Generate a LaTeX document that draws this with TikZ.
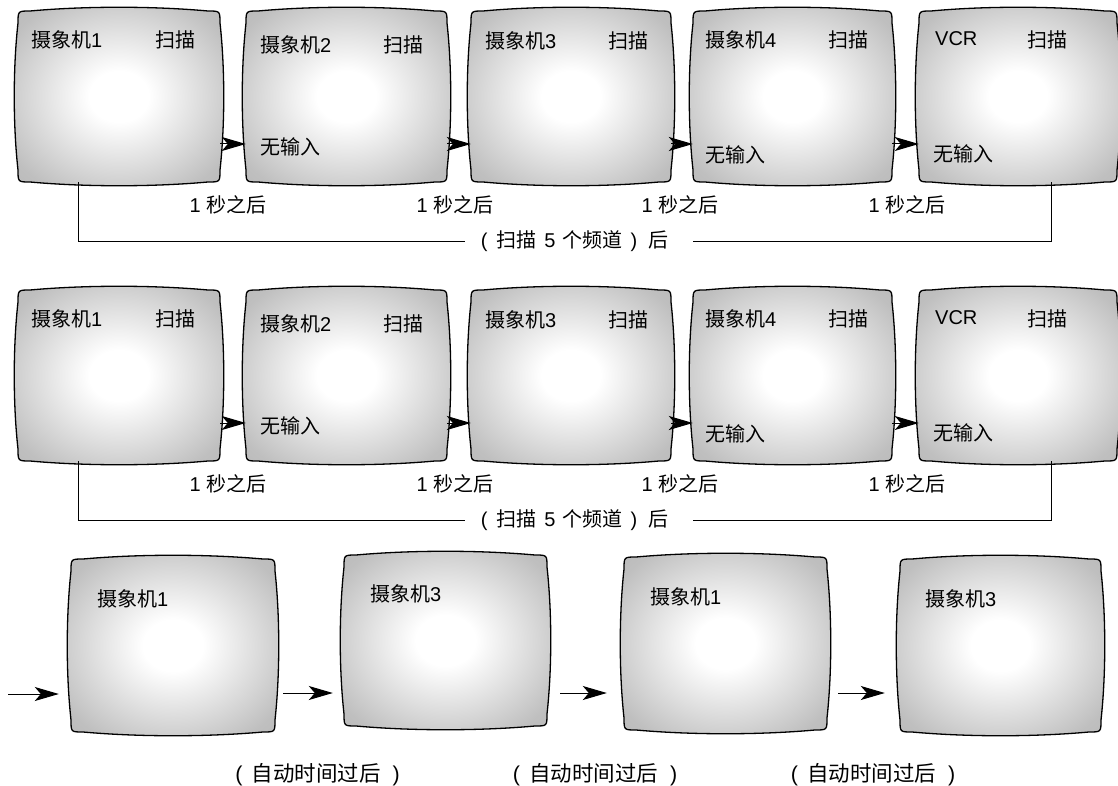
\documentclass[tikz,border=0pt]{standalone}
\usepackage{fontspec}
\setmainfont{Liberation Sans}
\newfontfamily\cjk{Noto Sans CJK SC}
\usepackage{tikz}
\usetikzlibrary{arrows.meta,calc}
\pgfdeclareradialshading{tvglow}{\pgfpoint{0bp}{0bp}}{color(0bp)=(white); color(7bp)=(white); color(30bp)=(gray!50); color(45bp)=(gray!62); color(60bp)=(gray!75)}
% name, centre, half width, half height
\newcommand{\tvscreen}[4]{%
  \begin{scope}[shift={(#2)}]
    \shade[tvface] (-#3,-#4+12) .. controls (-#3,-#4) .. (-#3+12,-#4)
      .. controls (-#3/3,-#4-5) and (#3/3,-#4-5) .. (#3-12,-#4)
      .. controls (#3,-#4) .. (#3,-#4+12)
      .. controls (#3+5,-#4/3) and (#3+5,#4/3) .. (#3,#4-12)
      .. controls (#3,#4) .. (#3-12,#4)
      .. controls (#3/3,#4+5) and (-#3/3,#4+5) .. (-#3+12,#4)
      .. controls (-#3,#4) .. (-#3,#4-12)
      .. controls (-#3-5,#4/3) and (-#3-5,-#4/3) .. cycle;
  \end{scope}
  \node[tvnode, minimum width=2*#3, minimum height=2*#4] (#1) at (#2) {};
}
\newcommand{\sweeptext}{(\hspace{9pt}{\cjk 扫描}\hspace{8pt}5\hspace{7pt}{\cjk 个频道}\hspace{8pt})\hspace{11pt}{\cjk 后}}
\newcommand{\autotext}{(\hspace{9pt}{\cjk 自动时间过后}\hspace{12pt})}

\begin{document}
\begin{tikzpicture}[x=1pt, y=-1pt]
        % Styles
        \tikzstyle{tvface} = [shading=tvglow, draw=black, line width=1.3pt]
        \tikzstyle{tvnode} = [rectangle, inner sep=0pt]
        \tikzstyle{lbl} = [font=\fontsize{20}{24}\selectfont, inner sep=0pt, anchor=west]
        \tikzstyle{note} = [font=\fontsize{20}{24}\selectfont, inner sep=0pt]
        \tikzstyle{line} = [draw, -{Stealth[length=24pt,width=14pt,inset=6pt]}, line width=1pt]
        \tikzstyle{bracket} = [draw, line width=0.8pt]

        \useasboundingbox (0,0) rectangle (1118,786);

        % Screens
        \tvscreen{s11}{119,96.5}{101}{85.5}
        \tvscreen{s12}{346.5,96.5}{100.5}{85.5}
        \tvscreen{s13}{571,96.5}{100}{85.5}
        \tvscreen{s14}{792.5,96.5}{99.5}{85.5}
        \tvscreen{s15}{1018,96.5}{99}{85.5}

        \tvscreen{s21}{119,375.5}{101}{85.5}
        \tvscreen{s22}{346.5,375.5}{100.5}{85.5}
        \tvscreen{s23}{571,375.5}{100}{85.5}
        \tvscreen{s24}{792.5,375.5}{99.5}{85.5}
        \tvscreen{s25}{1018,375.5}{99}{85.5}

        \tvscreen{r31}{173,645.5}{102}{86.5}
        \tvscreen{r32}{445.5,640.5}{101.5}{85.5}
        \tvscreen{r33}{725.5,643.5}{101.5}{86.5}
        \tvscreen{r34}{1000.5,645.5}{100.5}{86.5}

        % Screen texts
        \node[lbl] (cam11) at (31,40) {{\cjk 摄象机}1};
        \node[lbl] (scan11) at (155,40) {\cjk 扫描};
        \node[lbl] (cam12) at (260,45) {{\cjk 摄象机}2};
        \node[lbl] (scan12) at (383,45) {\cjk 扫描};
        \node[lbl] (none12) at (260,147) {\cjk 无输入};
        \node[lbl] (cam13) at (485,41) {{\cjk 摄象机}3};
        \node[lbl] (scan13) at (608,41) {\cjk 扫描};
        \node[lbl] (cam14) at (705,40) {{\cjk 摄象机}4};
        \node[lbl] (scan14) at (828,40) {\cjk 扫描};
        \node[lbl] (none14) at (705,155) {\cjk 无输入};
        \node[lbl] (vcr15) at (935,39) {VCR};
        \node[lbl] (scan15) at (1027,40) {\cjk 扫描};
        \node[lbl] (none15) at (933,154) {\cjk 无输入};

        \node[lbl] (cam21) at (31,319) {{\cjk 摄象机}1};
        \node[lbl] (scan21) at (155,319) {\cjk 扫描};
        \node[lbl] (cam22) at (260,324) {{\cjk 摄象机}2};
        \node[lbl] (scan22) at (383,324) {\cjk 扫描};
        \node[lbl] (none22) at (260,426) {\cjk 无输入};
        \node[lbl] (cam23) at (485,320) {{\cjk 摄象机}3};
        \node[lbl] (scan23) at (608,320) {\cjk 扫描};
        \node[lbl] (cam24) at (705,319) {{\cjk 摄象机}4};
        \node[lbl] (scan24) at (828,319) {\cjk 扫描};
        \node[lbl] (none24) at (705,434) {\cjk 无输入};
        \node[lbl] (vcr25) at (935,318) {VCR};
        \node[lbl] (scan25) at (1027,319) {\cjk 扫描};
        \node[lbl] (none25) at (933,433) {\cjk 无输入};

        \node[lbl] (cam31) at (97,599) {{\cjk 摄象机}1};
        \node[lbl] (cam32) at (370,594) {{\cjk 摄象机}3};
        \node[lbl] (cam33) at (650,597) {{\cjk 摄象机}1};
        \node[lbl] (cam34) at (925,599) {{\cjk 摄象机}3};

        % Delay notes
        \node[note] (wait11) at (228,205) {1 {\cjk 秒之后}};
        \node[note] (wait12) at (455,205) {1 {\cjk 秒之后}};
        \node[note] (wait13) at (680,205) {1 {\cjk 秒之后}};
        \node[note] (wait14) at (907,205) {1 {\cjk 秒之后}};
        \node[note] (wait21) at (228,484) {1 {\cjk 秒之后}};
        \node[note] (wait22) at (455,484) {1 {\cjk 秒之后}};
        \node[note] (wait23) at (680,484) {1 {\cjk 秒之后}};
        \node[note] (wait24) at (907,484) {1 {\cjk 秒之后}};
        \node[note, inner xsep=16pt] (sweep1) at (574.5,241) {\sweeptext};
        \node[note, inner xsep=16pt] (sweep2) at (574.5,520) {\sweeptext};
        \node[note, font=\fontsize{21.5}{24}\selectfont] (auto1) at (317.5,775) {\autotext};
        \node[note, font=\fontsize{21.5}{24}\selectfont] (auto2) at (595,775) {\autotext};
        \node[note, font=\fontsize{21.5}{24}\selectfont] (auto3) at (873,775) {\autotext};

        % Edges
        \path [line] ([yshift=-47.5pt]s11.east) -- ([yshift=-47.5pt]s12.west);
        \path [line] ([yshift=-47.5pt]s12.east) -- ([yshift=-47.5pt]s13.west);
        \path [line] ([yshift=-47.5pt]s13.east) -- ([yshift=-47.5pt]s14.west);
        \path [line] ([yshift=-47.5pt]s14.east) -- ([yshift=-47.5pt]s15.west);
        \path [line] ([yshift=-47.5pt]s21.east) -- ([yshift=-47.5pt]s22.west);
        \path [line] ([yshift=-47.5pt]s22.east) -- ([yshift=-47.5pt]s23.west);
        \path [line] ([yshift=-47.5pt]s23.east) -- ([yshift=-47.5pt]s24.west);
        \path [line] ([yshift=-47.5pt]s24.east) -- ([yshift=-47.5pt]s25.west);

        \coordinate (feed) at (8,694);
        \path [line] (feed) -- ([shift={(-12pt,-48.5pt)}]r31.west);
        \path [line] ([shift={(8pt,-47.5pt)}]r31.east) -- ([shift={(-11pt,-52.5pt)}]r32.west);
        \path [line] ([shift={(13pt,-52.5pt)}]r32.east) -- ([shift={(-17pt,-49.5pt)}]r33.west);
        \path [line] ([shift={(11pt,-49.5pt)}]r33.east) -- ([shift={(-15pt,-47.5pt)}]r34.west);

        \path [bracket] ([xshift=-41pt]s11.south) |- (sweep1.west);
        \path [bracket] ([xshift=9pt]sweep1.east) -| ([xshift=33pt]s15.south);
        \path [bracket] ([xshift=-41pt]s21.south) |- (sweep2.west);
        \path [bracket] ([xshift=9pt]sweep2.east) -| ([xshift=33pt]s25.south);

    \end{tikzpicture}
\end{document}
